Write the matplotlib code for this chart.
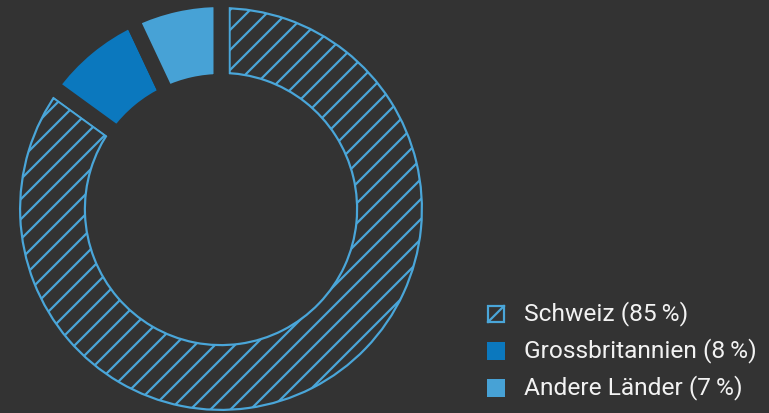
import matplotlib
matplotlib.use("Agg")
import matplotlib.pyplot as plt
from matplotlib.patches import Circle, Rectangle
from matplotlib.lines import Line2D

categories = ["Schweiz", "Grossbritannien", "Andere Länder"]
values = [85, 8, 7]
labels = ["Schweiz (85\u2009%)", "Grossbritannien (8\u2009%)", "Andere Länder (7\u2009%)"]

BG = "#333333"
LIGHT = "#4aa6d9"
DARK = "#0b78be"
SOLID2 = "#47a2d6"
TEXT = "#f2f2f2"
colors = [BG, DARK, SOLID2]

DPI = 120
W, H = 769, 413
px = 72.0 / DPI  # points per pixel

plt.rcParams["hatch.linewidth"] = 2.2 * px
plt.rcParams["font.family"] = ["Roboto", "DejaVu Sans"]

fig = plt.figure(figsize=(W / DPI, H / DPI), dpi=DPI, facecolor=BG)
cx, cy = 221, H - 209
half = 225
ax = fig.add_axes([(cx - half) / W, (cy - half) / H, 2 * half / W, 2 * half / H])
ax.set_facecolor(BG)

gap = 15
R = 202 + gap / 2
Rin = 135 - gap / 2
ring = R - Rin

# layer 1: Schweiz hatched, light stroke (outline band)
w1, _ = ax.pie(values, radius=R, startangle=90, counterclock=False,
               colors=colors, wedgeprops=dict(width=ring))
# layer 2: gap strokes
w2, _ = ax.pie(values, radius=R, startangle=90, counterclock=False,
               colors=colors, wedgeprops=dict(width=ring))

w1[0].set_edgecolor(LIGHT)
w1[0].set_hatch("//")
w1[0].set_linewidth((gap + 4.4) * px)
w1[0].set_zorder(1)
w1[1].set_visible(False)
w1[2].set_visible(False)

w2[0].set_facecolor("none")
for w in w2:
    w.set_edgecolor(BG)
    w.set_linewidth(gap * px)
    w.set_zorder(2)
w2[1].set_zorder(3)
w2[2].set_zorder(3)

# cover the outline overflow beyond the ring
for rr in (R + 8.5, Rin - 8.5):
    ax.add_patch(Circle((0, 0), rr, fill=False, edgecolor=BG,
                        linewidth=7 * px, zorder=4))

ax.set_xlim(-half, half)
ax.set_ylim(-half, half)
ax.set_aspect("equal")
ax.axis("off")

# legend (manual layout in pixel coordinates)
fs = 24.5 * px
box = 18
for i, lab in enumerate(labels):
    yc = H - (314 + 37 * i)
    x0 = 487
    if i == 0:
        fig.add_artist(Rectangle((x0 + 1, yc - box / 2 + 1), box - 2, box - 2,
                                 transform=None, facecolor=BG, edgecolor=LIGHT,
                                 linewidth=2.2 * px))
        fig.add_artist(Line2D([x0 + 1, x0 + box - 1], [yc - box / 2 + 1, yc + box / 2 - 1],
                              transform=None, color=LIGHT, linewidth=2.2 * px))
    else:
        fig.add_artist(Rectangle((x0, yc - box / 2), box, box, transform=None,
                                 facecolor=colors[i], edgecolor="none"))
    fig.text(524 / W, yc / H, lab, color=TEXT, fontsize=fs,
             ha="left", va="center")

fig.savefig("out.png", dpi=DPI, facecolor=BG)
